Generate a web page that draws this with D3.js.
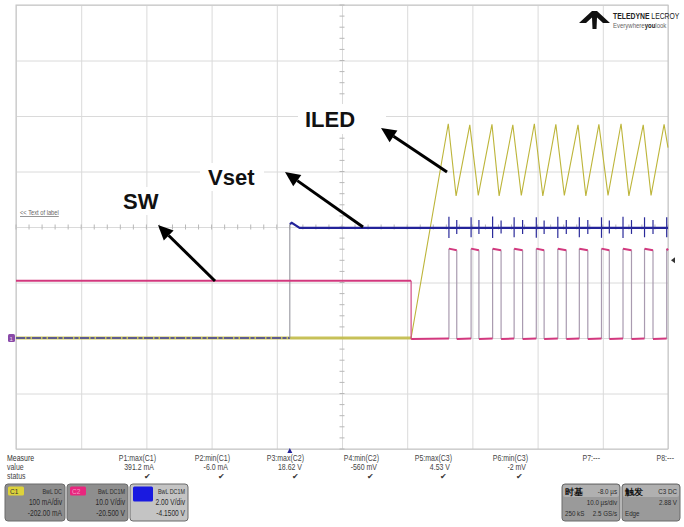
<!DOCTYPE html>
<html><head><meta charset="utf-8">
<script src="https://cdn.jsdelivr.net/npm/d3@7"></script>
<style>
html,body{margin:0;padding:0;background:#fff;}
svg{display:block;}
text{font-family:"Liberation Sans",Arial,sans-serif;}
</style></head>
<body>
<svg id="c" width="684" height="527"></svg>
<script>
// ---------------- DATA ----------------
const timeDomain = [-42, 58];               // µs (10 div x 10 µs/div, delay -8 µs)
const gridTimes = [-42,-32,-22,-12,-2,8,18,28,38,48,58];
const gridDivs = [-4,-3,-2,-1,0,1,2,3,4];

// channel settings (per div, offset)
const c1Scale = 100, c1Offset = -202;       // mA
const c2Scale = 10,  c2Offset = -20.5;      // V
const c3Scale = 2,   c3Offset = -4.15;      // V

// C1: ILED (mA)
const iledT  = [-42, 18.6, 24.3, 25.5, 27.6, 28.9, 31.0, 32.1, 34.2, 35.5, 37.5, 38.8, 40.8, 42.1, 44.2, 45.4, 47.4, 48.8, 50.8, 52.0, 54.2, 55.4, 57.4, 58];
const iledMA = [2,    2,    388,  258,  386,  259,  387,  258,  386,  259,  388,  258,  387,  259,  386,  258,  387,  259,  388,  258,  386,  259,  387,  345];

// C2: SW (V)
const swT = [-42, 18.6, 18.6, 24.4, 24.4, 25.6, 25.6, 27.8, 27.8, 29.0, 29.0, 31.1, 31.1, 32.4, 32.4, 34.4, 34.4, 35.7, 35.7, 37.8, 37.8, 39.0, 39.0, 41.1, 41.1, 42.4, 42.4, 44.4, 44.4, 45.7, 45.7, 47.8, 47.8, 49.0, 49.0, 51.1, 51.1, 52.4, 52.4, 54.4, 54.4, 55.7, 55.7, 57.8, 57.8, 58];
const swV = [10.8, 10.8, 0.3, 0.4, 16.6, 16.3, 0.3, 0.4, 16.6, 16.3, 0.3, 0.4, 16.6, 16.3, 0.3, 0.4, 16.6, 16.3, 0.3, 0.4, 16.6, 16.3, 0.3, 0.4, 16.6, 16.3, 0.3, 0.4, 16.6, 16.3, 0.3, 0.4, 16.6, 16.3, 0.3, 0.4, 16.6, 16.3, 0.3, 0.4, 16.6, 16.3, 0.3, 0.4, 16.6, 16.3];

// C3: Vset (V)
const vsetT = [-42, 0, 0, 0.3, 1.5, 3, 58];
const vsetV = [0.15, 0.15, 4.25, 4.3, 4.12, 4.12, 4.12];
const spikeT  = [24.4, 25.6, 27.8, 29.0, 31.1, 32.4, 34.4, 35.7, 37.8, 39.0, 41.1, 42.4, 44.4, 45.7, 47.8, 49.0, 51.1, 52.4, 54.4, 55.7, 57.8];
const spikeHi = [4.52, 4.4, 4.5, 4.4, 4.53, 4.38, 4.5, 4.4, 4.5, 4.38, 4.52, 4.4, 4.5, 4.4, 4.5, 4.38, 4.52, 4.4, 4.5, 4.4, 4.5];
const spikeLo = [3.75, 3.9, 3.78, 3.9, 3.75, 3.92, 3.78, 3.9, 3.76, 3.9, 3.75, 3.9, 3.78, 3.9, 3.76, 3.92, 3.75, 3.9, 3.78, 3.9, 3.78];

// labels
const annoLabels = ["ILED", "Vset", "SW"];
const measNames  = ["P1:max(C1)","P2:min(C1)","P3:max(C2)","P4:min(C2)","P5:max(C3)","P6:min(C3)","P7:---","P8:---"];
const measValues = ["391.2 mA","-6.0 mA","18.62 V","-560 mV","4.53 V","-2 mV","",""];
const measStatus = [true,true,true,true,true,true,false,false];

// ---------------- LAYOUT ----------------
const L = 16, R = 668, T = 5, B = 449;
const svg = d3.select("#c");
const x = d3.scaleLinear().domain(timeDomain).range([L, R]);
const yDiv = d3.scaleLinear().domain([-4, 4]).range([B, T]);
const chanY = (s, o) => d3.scaleLinear().domain([-4*s - o, 4*s - o]).range([B, T]);
const y1 = chanY(c1Scale, c1Offset), y2 = chanY(c2Scale, c2Offset), y3 = chanY(c3Scale, c3Offset);

// narrow text helper
function nt(parent, px, py, str, o = {}) {
  const t = parent.append("text")
    .attr("transform", `translate(${px},${py}) scale(${o.k || 0.82},1)`)
    .attr("font-size", o.size || 8).attr("fill", o.fill || "#444")
    .attr("text-anchor", o.anchor || "start");
  if (o.weight) t.attr("font-weight", o.weight);
  if (o.family) t.attr("font-family", o.family);
  if (o.deco) t.attr("text-decoration", o.deco);
  t.text(str);
  return t;
}

// grid via axes
const gx = svg.append("g").attr("transform", `translate(0,${B})`)
  .call(d3.axisBottom(x).tickValues(gridTimes).tickSize(-(B - T)).tickFormat(""));
const gy = svg.append("g").attr("transform", `translate(${L},0)`)
  .call(d3.axisLeft(yDiv).tickValues(gridDivs).tickSize(-(R - L)).tickFormat(""));
[gx, gy].forEach(g => {
  g.select(".domain").remove();
  g.selectAll("line").attr("stroke", "#dadada").attr("stroke-width", 1);
});
svg.append("rect").attr("x", L).attr("y", T).attr("width", R - L).attr("height", B - T)
  .attr("fill", "none").attr("stroke", "#c4c4c4");

// center tick marks
const cx = x(8), cy = yDiv(0);
const subY = d3.range(-4, 4.01, 0.2), subX = d3.range(-42, 58.01, 2);
svg.append("g").selectAll("line").data(subY).join("line")
  .attr("x1", cx - 2.5).attr("x2", cx + 2.5).attr("y1", d => yDiv(d)).attr("y2", d => yDiv(d))
  .attr("stroke", "#b8b8b8");
svg.append("g").selectAll("line").data(subX).join("line")
  .attr("y1", cy - 2.5).attr("y2", cy + 2.5).attr("x1", d => x(d)).attr("x2", d => x(d))
  .attr("stroke", "#b8b8b8");

// "<< Text of label"
nt(svg, 20, 215, "<< Text of label", {size: 7, fill: "#666", deco: "underline"});

// ---------------- TRACES ----------------
const zip = (a, b) => a.map((t, i) => [t, b[i]]);
const iled = zip(iledT, iledMA), sw = zip(swT, swV), vset = zip(vsetT, vsetV);

const line1 = d3.line().x(d => x(d[0])).y(d => y1(d[1]));
const line3 = d3.line().x(d => x(d[0])).y(d => y3(d[1]));

// C1 baseline band (before ramp)
svg.append("path").datum(iled.slice(0, 2)).attr("d", line1)
  .attr("fill", "none").attr("stroke", "#c2bb48").attr("stroke-width", 3).attr("opacity", 0.9);
// C3 baseline (before step) — blue noisy band
svg.append("path").datum(vset.slice(0, 2)).attr("d", line3)
  .attr("fill", "none").attr("stroke", "#3a3aa0").attr("stroke-width", 1.8).attr("opacity", 0.75)
  .attr("stroke-dasharray", "9,1.5,4,1.5");

// C1 ramp + triangle
svg.append("path").datum(iled.slice(1)).attr("d", line1)
  .attr("fill", "none").attr("stroke", "#bdb53a").attr("stroke-width", 1.1);

// C3 step edge (thin gray)
svg.append("line").attr("x1", x(vsetT[1])).attr("x2", x(vsetT[2]))
  .attr("y1", y3(vsetV[1])).attr("y2", y3(vsetV[2])).attr("stroke", "#8c8c96").attr("stroke-width", 1);

// C2: SW — level segments pink, vertical edges gray
const swSeg = d3.pairs(sw);
svg.append("g").selectAll("line").data(swSeg.filter(p => p[0][0] === p[1][0])).join("line")
  .attr("x1", p => x(p[0][0])).attr("x2", p => x(p[1][0]))
  .attr("y1", p => y2(p[0][1])).attr("y2", p => y2(p[1][1]))
  .attr("stroke", (p, i) => i === 0 ? "#d04a86" : "#a99bb0").attr("stroke-width", 1.2);
svg.append("g").selectAll("line").data(swSeg.filter(p => p[0][0] !== p[1][0])).join("line")
  .attr("x1", p => x(p[0][0])).attr("x2", p => x(p[1][0]))
  .attr("y1", p => y2(p[0][1])).attr("y2", p => y2(p[1][1]))
  .attr("stroke", "#d2387e").attr("stroke-width", 2);

// C3 high level + spikes
svg.append("path").datum(vset.slice(2)).attr("d", line3)
  .attr("fill", "none").attr("stroke", "#23239a").attr("stroke-width", 2.2);
svg.append("g").selectAll("line").data(spikeT).join("line")
  .attr("x1", d => x(d)).attr("x2", d => x(d))
  .attr("y1", (d, i) => y3(spikeHi[i])).attr("y2", (d, i) => y3(spikeLo[i]))
  .attr("stroke", "#2a2a9a").attr("stroke-width", 1.2);

// markers
svg.append("rect").attr("x", 8).attr("y", y1(0) - 5).attr("width", 7).attr("height", 8).attr("rx", 1.5).attr("fill", "#8a4aa8");
nt(svg, 9.5, y1(0) + 1.5, "1", {size: 6, fill: "#e8d8f0", k: 1});
svg.append("path").attr("d", `M${R + 7},${yDiv(-0.6) - 3} L${R + 3},${yDiv(-0.6)} L${R + 7},${yDiv(-0.6) + 3}Z`).attr("fill", "#333");
svg.append("path").attr("d", `M${x(0)},${B - 1} l-2.5,5 l5,0Z`).attr("fill", "#23239a");

// ---------------- ANNOTATIONS ----------------
const annos = [
  {t: annoLabels[0], tx: 305, ty: 127, box: [298, 104, 88, 30], from: [447, 172], to: [381, 128]},
  {t: annoLabels[1], tx: 208, ty: 185, box: [200, 163, 64, 28], from: [363, 227], to: [285, 172]},
  {t: annoLabels[2], tx: 123, ty: 209, box: [116, 187, 54, 28], from: [215, 281], to: [158, 225]}
];
annos.forEach(a => {
  svg.append("rect").attr("x", a.box[0]).attr("y", a.box[1]).attr("width", a.box[2]).attr("height", a.box[3]).attr("fill", "#fff");
});
annos.forEach(a => {
  svg.append("text").attr("x", a.tx).attr("y", a.ty)
    .attr("font-weight", "bold").attr("font-size", 22).attr("fill", "#111").text(a.t);
  const [x0, y0] = a.from, [x1, y1_] = a.to;
  const ang = Math.atan2(y1_ - y0, x1 - x0), hl = 15, hw = 7;
  const bx = x1 - hl * Math.cos(ang), by = y1_ - hl * Math.sin(ang);
  svg.append("line").attr("x1", x0).attr("y1", y0).attr("x2", bx).attr("y2", by).attr("stroke", "#000").attr("stroke-width", 3);
  const px = -Math.sin(ang) * hw, py = Math.cos(ang) * hw;
  svg.append("path").attr("d", `M${x1},${y1_} L${bx + px},${by + py} L${bx - px},${by - py}Z`).attr("fill", "#000");
});

// ---------------- LOGO ----------------
svg.append("path").attr("d", "M579,23 L592,11 L597,11 L610,23 L603,23 L597,17.5 L596.5,29 L592.5,29 L592,17.5 L586,23Z").attr("fill", "#111");
{
  const t = svg.append("text").attr("transform", "translate(613,19) scale(0.72,1)").attr("font-size", 9.5).attr("fill", "#222");
  t.append("tspan").attr("font-weight", "bold").text("TELEDYNE ");
  t.append("tspan").text("LECROY");
  const u = svg.append("text").attr("transform", "translate(613,27.5) scale(0.75,1)").attr("font-size", 8).attr("fill", "#666");
  u.append("tspan").text("Everywhere");
  u.append("tspan").attr("font-weight", "bold").attr("fill", "#222").text("you");
  u.append("tspan").text("look");
}

// ---------------- MEASURE TABLE ----------------
const measX = [156, 230, 304, 379, 452, 528, 600, 674];
const mt = svg.append("g");
nt(mt, 7, 461, "Measure", {size: 8.5, fill: "#333"});
nt(mt, 7, 470, "value", {size: 8.5});
nt(mt, 7, 479, "status", {size: 8.5});
measNames.forEach((n, i) => {
  nt(mt, measX[i], 461, n, {size: 8.5, anchor: "end"});
  if (measValues[i]) nt(mt, measX[i] - 2, 470, measValues[i], {size: 8.5, anchor: "end"});
  if (measStatus[i]) nt(mt, measX[i] - 5, 479, "\u2714", {size: 8, anchor: "end", fill: "#333", k: 1});
});

// ---------------- BADGES ----------------
const badges = [
  {x: 5,   w: 60, fill: "#8e8e8e", tag: "C1", tagFill: "#ddd23a", tw: 16, th: 9, l1: "BwL DC",   l2: "100 mA/div", l3: "-202.00 mA"},
  {x: 67,  w: 61, fill: "#8e8e8e", tag: "C2", tagFill: "#e8267e", tw: 16, th: 9, l1: "BwL DC1M", l2: "10.0 V/div", l3: "-20.500 V"},
  {x: 130, w: 58, fill: "#c4c4c4", tag: "",   tagFill: "#1a1ae0", tw: 20, th: 15, l1: "BwL DC1M", l2: "2.00 V/div", l3: "-4.1500 V"}
];
const bg = svg.append("g");
badges.forEach(b => {
  bg.append("rect").attr("x", b.x).attr("y", 484).attr("width", b.w).attr("height", 37).attr("rx", 3)
    .attr("fill", b.fill).attr("stroke", "#6a6a6a");
  bg.append("rect").attr("x", b.x + 3).attr("y", 486.5).attr("width", b.tw).attr("height", b.th).attr("rx", 1.5).attr("fill", b.tagFill);
  if (b.tag) nt(bg, b.x + 5, 494, b.tag, {size: 8, fill: b.tag === "C2" ? "#f29cc4" : "#333"});
  nt(bg, b.x + b.w - 3, 494, b.l1, {size: 7.5, anchor: "end", fill: "#2a2a2a", k: 0.72});
  nt(bg, b.x + b.w - 3, 505, b.l2, {size: 8.5, anchor: "end", fill: "#2a2a2a", k: 0.78});
  nt(bg, b.x + b.w - 3, 516, b.l3, {size: 8.5, anchor: "end", fill: "#2a2a2a", k: 0.78});
});
// timebase / trigger
const tb = [
  {x: 562, w: 58, h1: "时基", r1: "-8.0 µs", r2: "10.0 µs/div", l3: "250 kS", r3: "2.5 GS/s"},
  {x: 622, w: 58, h1: "触发", r1: "C3 DC",   r2: "2.88 V",      l3: "Edge",   r3: ""}
];
tb.forEach(b => {
  bg.append("rect").attr("x", b.x).attr("y", 484).attr("width", b.w).attr("height", 37).attr("rx", 3)
    .attr("fill", "#9a9a9a").attr("stroke", "#6a6a6a");
  bg.append("rect").attr("x", b.x + 1).attr("y", 485).attr("width", b.w - 2).attr("height", 12).attr("rx", 2)
    .attr("fill", "#b0b0b0");
  nt(bg, b.x + 3, 494.5, b.h1, {size: 9, fill: "#111", weight: "bold", family: "Noto Sans CJK SC, sans-serif", k: 1});
  nt(bg, b.x + b.w - 3, 494, b.r1, {size: 8, anchor: "end", fill: "#2a2a2a", k: 0.78});
  nt(bg, b.x + b.w - 3, 505, b.r2, {size: 8, anchor: "end", fill: "#2a2a2a", k: 0.78});
  nt(bg, b.x + 3, 516, b.l3, {size: 8, fill: "#2a2a2a", k: 0.78});
  if (b.r3) nt(bg, b.x + b.w - 3, 516, b.r3, {size: 8, anchor: "end", fill: "#2a2a2a", k: 0.78});
});
</script>
</body></html>
